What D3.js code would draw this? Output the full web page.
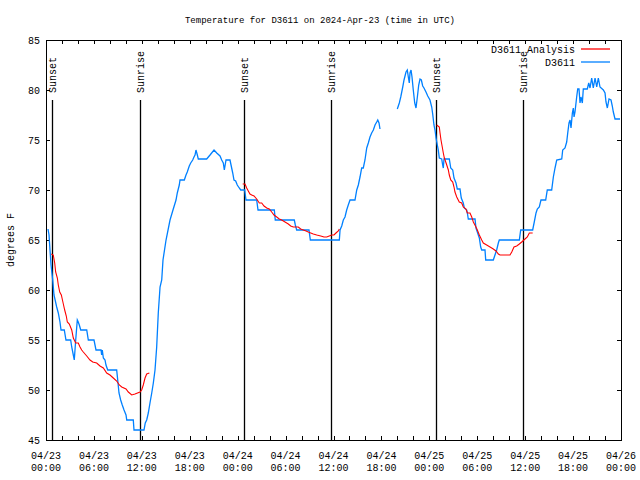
<!DOCTYPE html>
<html>
<head>
<meta charset="utf-8">
<script src="https://cdn.jsdelivr.net/npm/d3@7"></script>
<style>
  html, body { margin: 0; padding: 0; background: #fff; }
  text { font-family: "Liberation Mono", "DejaVu Sans Mono", monospace; }
</style>
</head>
<body>
<svg id="chart" width="640" height="480"></svg>
<script>
// ---- Data (hours since 2024-04-23 00:00 UTC, degrees F) ----
const startTime = "2024-04-23T00:00:00Z";
const endTime = "2024-04-26T00:00:00Z";
const yTicks = [45, 50, 55, 60, 65, 70, 75, 80, 85];

// D3611 observations (null = gap)
const obsHours = [
  0.25,0.38,0.50,0.63,0.84,1.00,1.34,1.54,1.75,1.88,2.29,2.50,3.09,3.22,3.42,3.54,3.72,3.92,4.04,4.17,
  4.35,5.10,5.30,6.01,6.26,6.89,6.97,7.05,7.18,7.39,7.51,7.73,8.85,8.98,9.14,9.35,9.55,9.77,10.02,10.11,
  10.93,11.02,12.27,12.43,12.61,12.81,13.02,13.24,13.44,13.65,13.86,14.06,14.28,14.49,14.65,15.03,15.53,15.90,16.28,16.44,
  16.69,16.78,17.32,17.53,17.69,17.94,18.12,18.37,18.53,18.66,18.78,18.95,19.07,20.12,20.54,21.04,21.38,21.79,22.00,22.20,
  22.33,22.54,23.04,23.17,23.38,23.54,23.75,23.95,24.20,24.38,24.88,25.04,26.38,26.55,28.59,28.71,31.09,31.22,31.39,32.93,
  33.10,36.73,36.82,37.03,37.23,37.44,37.65,37.85,38.07,38.28,38.69,38.91,39.11,39.32,39.53,39.73,39.94,40.16,40.36,40.57,
  40.78,40.99,41.20,41.41,41.54,41.70,41.82,42.9,
  43.99,44.24,44.42,44.67,44.83,45.08,45.24,45.37,45.49,45.58,45.71,45.83,45.99,46.17,46.33,46.50,46.67,46.83,47.00,47.17,
  47.33,47.58,47.80,48.08,48.30,48.42,48.58,48.71,48.84,49.00,49.12,49.25,49.55,49.67,49.75,49.84,50.50,50.68,50.93,51.09,
  51.34,51.50,51.84,52.00,52.25,52.38,52.68,52.76,52.88,53.72,53.84,54.01,54.26,54.43,54.56,54.97,55.06,56.01,56.22,56.43,
  56.64,56.76,59.27,59.44,60.94,61.14,61.36,61.52,61.77,61.98,62.57,62.77,63.32,63.53,63.74,63.95,64.58,64.70,64.99,65.20,
  65.33,65.49,65.62,65.74,65.91,66.03,66.12,66.24,66.45,66.58,66.74,66.87,66.99,67.16,67.28,67.78,67.96,68.12,68.33,68.53,
  68.75,68.96,69.16,69.37,69.79,70.00,70.12,70.29,70.50,70.75,70.91,71.04,71.25,71.88
];
const obsTemps = [
  66.1,65.5,64.0,62.5,61.0,59.5,58.3,57.7,56.8,56.0,56.0,55.0,55.0,54.3,53.5,53.0,55.0,57.0,56.8,56.5,
  56.0,56.0,55.0,55.0,54.0,54.0,53.5,54.0,53.2,53.0,52.5,52.0,52.0,51.0,49.7,49.0,48.5,48.0,47.5,47.0,
  47.0,46.0,46.0,46.7,47.0,47.7,48.7,49.7,50.7,52.0,54.3,57.7,60.3,61.0,63.0,65.0,67.0,68.0,69.0,69.7,
  70.5,71.0,71.0,71.5,71.8,72.4,72.7,73.0,73.3,73.5,74.0,73.5,73.1,73.1,73.5,74.0,73.7,73.4,73.0,72.7,
  72.0,73.0,73.0,72.5,71.7,71.0,70.9,70.5,70.2,70.0,70.0,69.0,69.0,68.0,68.0,67.0,67.0,66.5,66.0,66.0,
  65.0,65.0,66.0,66.4,67.0,67.3,68.0,68.5,69.0,69.0,69.0,70.0,70.5,71.3,72.2,72.2,73.0,74.2,74.7,75.3,
  75.7,76.0,76.5,76.8,77.0,76.7,76.1,null,
  78.1,78.7,79.3,80.3,81.0,81.8,82.0,81.3,80.7,81.7,82.0,81.3,80.0,78.7,78.2,79.3,80.5,81.1,81.0,80.4,
  80.2,79.8,79.4,79.0,78.3,77.6,76.5,76.0,75.2,74.5,74.0,73.2,73.1,72.5,72.2,73.1,73.1,72.2,72.0,71.2,
  70.7,70.1,70.1,69.2,68.7,68.2,68.0,67.7,67.1,67.1,66.2,65.8,65.2,64.3,64.0,64.0,63.0,63.0,63.5,64.0,
  64.7,65.0,65.0,66.0,66.0,66.8,67.7,68.1,68.3,69.0,69.0,70.0,70.0,71.3,72.2,73.0,73.1,74.0,74.2,74.8,
  75.7,76.7,77.0,76.2,77.7,78.2,77.3,77.8,79.3,80.1,80.1,78.7,79.3,78.7,80.1,80.1,80.7,80.2,81.2,80.2,
  81.2,80.3,81.2,80.3,80.0,79.7,78.8,78.2,79.1,79.0,78.4,77.8,77.1,77.1
];

// D3611 Analysis (null = gap)
const anaHours = [
  0.66,0.91,1.09,1.21,1.42,1.54,1.72,1.92,2.17,2.34,2.54,2.67,2.92,3.22,3.42,3.72,4.04,4.26,4.47,4.67,
  5.10,5.51,5.85,6.35,6.76,7.18,7.60,8.01,8.43,8.85,9.18,9.48,10.02,10.31,10.73,11.14,11.77,11.98,12.18,12.40,
  12.61,12.94,18.0,
  24.63,24.92,25.13,25.33,25.54,25.76,26.05,26.38,26.71,27.01,27.30,27.64,27.96,28.26,28.55,28.89,29.21,29.51,29.93,30.34,
  30.64,30.97,31.59,31.89,32.22,32.56,32.84,33.15,33.47,33.90,34.40,34.81,35.15,35.47,35.78,36.06,36.31,36.60,36.73,42.0,
  48.92,49.25,49.34,49.46,49.62,49.75,49.88,49.97,50.18,50.38,50.50,50.68,50.93,51.09,51.21,51.43,51.75,52.05,52.25,52.59,
  52.76,53.09,53.31,53.51,53.84,54.01,54.26,54.56,54.76,55.18,55.60,56.01,56.35,56.64,56.85,58.10,58.32,58.60,58.94,59.27,
  59.57,59.98,60.27,60.52,60.94
];
const anaTemps = [
  63.6,63.5,62.7,61.8,61.2,60.5,59.8,59.5,58.6,58.0,57.4,56.8,56.6,56.0,55.2,54.7,54.7,54.3,54.0,53.8,
  53.4,53.0,52.8,52.7,52.4,52.2,51.7,51.5,51.2,50.9,50.5,50.3,50.1,49.8,49.5,49.6,49.8,50.0,50.5,51.2,
  51.6,51.7,null,
  70.6,70.6,70.2,69.9,69.6,69.5,69.4,69.1,68.7,68.7,68.4,68.2,68.1,67.8,67.5,67.3,67.1,67.0,66.8,66.6,
  66.4,66.3,66.3,66.1,66.0,65.9,65.8,65.7,65.6,65.5,65.4,65.3,65.3,65.4,65.5,65.5,65.7,65.9,66.1,null,
  76.5,76.3,75.7,75.0,74.3,73.7,73.2,73.0,72.5,72.0,71.5,71.0,70.8,70.3,69.8,69.3,68.8,68.7,68.3,68.1,
  67.7,67.7,67.3,66.8,66.3,66.0,65.5,65.0,64.7,64.5,64.3,64.1,63.9,63.6,63.5,63.5,63.8,64.3,64.4,64.6,
  64.8,65.1,65.3,65.7,65.7
];

// Sun events (hours since start)
const sunLabels = ["Sunset", "Sunrise", "Sunset", "Sunrise", "Sunset", "Sunrise"];
const sunHours = [0.79, 11.81, 24.82, 35.73, 48.89, 59.78];

const titleText = "Temperature for D3611 on 2024-Apr-23 (time in UTC)";
const yLabel = "degrees F";
const seriesNames = ["D3611 Analysis", "D3611"];
const seriesColors = ["#ff0000", "#0080ff"];

// ---- Chart ----
const svg = d3.select("#chart");
const W = 640, H = 480;
const m = { left: 46, right: 621, top: 40, bottom: 440 };
const t0 = new Date(startTime), t1 = new Date(endTime);
const toDate = h => new Date(t0.getTime() + h * 3600000);

const x = d3.scaleUtc().domain([t0, t1]).range([m.left, m.right]);
const y = d3.scaleLinear().domain([45, 85]).range([m.bottom, m.top]);

svg.append("rect").attr("width", W).attr("height", H).attr("fill", "#fff");

const fontSize = 10;
const ticks2h = d3.utcHour.every(2).range(t0, new Date(t1.getTime() + 1));

// bottom axis
svg.append("g").attr("transform", `translate(0,${m.bottom})`)
  .call(d3.axisBottom(x).tickValues(ticks2h).tickSize(-4).tickFormat(""));
// top axis
svg.append("g").attr("transform", `translate(0,${m.top})`)
  .call(d3.axisTop(x).tickValues(ticks2h).tickSize(-4).tickFormat(""));
// left axis
svg.append("g").attr("transform", `translate(${m.left},0)`)
  .call(d3.axisLeft(y).tickValues(yTicks).tickSize(-4).tickPadding(6).tickFormat(d3.format("d")));
// right axis
svg.append("g").attr("transform", `translate(${m.right},0)`)
  .call(d3.axisRight(y).tickValues(yTicks).tickSize(-4).tickFormat(""));

svg.selectAll("g .domain").remove();
svg.selectAll("g .tick line").attr("stroke", "#000").attr("shape-rendering", "crispEdges");
svg.selectAll("g .tick text").attr("font-size", fontSize).attr("fill", "#000")
  .attr("font-family", "Liberation Mono, DejaVu Sans Mono, monospace");

// x labels every 6h (two lines)
const labelTicks = d3.utcHour.every(6).range(t0, new Date(t1.getTime() + 1));
const fmtD = d3.utcFormat("%m/%d"), fmtT = d3.utcFormat("%H:%M");
const xl = svg.append("g");
labelTicks.forEach(d => {
  const t = xl.append("text").attr("x", x(d)).attr("y", 459)
    .attr("text-anchor", "middle").attr("font-size", fontSize).attr("fill", "#000");
  t.append("tspan").attr("x", x(d)).attr("y", 459).text(fmtD(d));
  t.append("tspan").attr("x", x(d)).attr("y", 471).text(fmtT(d));
});

// frame
svg.append("rect").attr("x", m.left).attr("y", m.top)
  .attr("width", m.right - m.left).attr("height", m.bottom - m.top)
  .attr("fill", "none").attr("stroke", "#000").attr("stroke-width", 1)
  .attr("shape-rendering", "crispEdges");

// sun event lines
const sun = svg.append("g");
sunHours.forEach((h, i) => {
  const xx = Math.round(x(toDate(h))) + 0.5;
  sun.append("line").attr("x1", xx).attr("x2", xx).attr("y1", 100).attr("y2", m.bottom)
    .attr("stroke", "#000").attr("stroke-width", 1.3);
  sun.append("text").attr("transform", `translate(${xx + 3.5},93) rotate(-90)`)
    .attr("font-size", fontSize).attr("fill", "#000").text(sunLabels[i]);
});

// series
const line = d3.line()
  .defined(d => d[1] !== null)
  .x(d => x(toDate(d[0])))
  .y(d => y(d[1]));

const anaData = anaHours.map((h, i) => [h, anaTemps[i]]);
const obsData = obsHours.map((h, i) => [h, obsTemps[i]]);

svg.append("path").datum(obsData).attr("d", line)
  .attr("fill", "none").attr("stroke", seriesColors[1]).attr("stroke-width", 1.3);
svg.append("path").datum(anaData).attr("d", line)
  .attr("fill", "none").attr("stroke", seriesColors[0]).attr("stroke-width", 1.1);

// legend
const lg = svg.append("g");
seriesNames.forEach((name, i) => {
  const yy = 49 + i * 13;
  lg.append("text").attr("x", 575).attr("y", yy + 3.5).attr("text-anchor", "end")
    .attr("font-size", fontSize).attr("fill", "#000").text(name);
  lg.append("line").attr("x1", 581).attr("x2", 610).attr("y1", yy).attr("y2", yy)
    .attr("stroke", seriesColors[i]).attr("stroke-width", 1.3);
});

// title
svg.append("text").attr("x", 320).attr("y", 23).attr("text-anchor", "middle")
  .attr("font-size", 9).attr("fill", "#000").text(titleText);

// y label
svg.append("text").attr("transform", "translate(14,240) rotate(-90)")
  .attr("text-anchor", "middle").attr("font-size", fontSize).attr("fill", "#000").text(yLabel);
</script>
</body>
</html>
